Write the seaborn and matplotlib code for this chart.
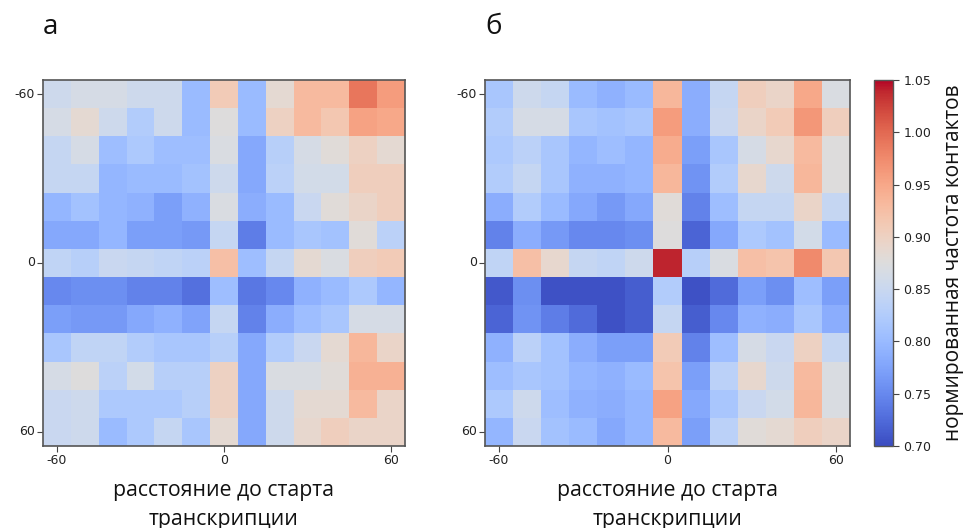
import numpy as np
import matplotlib
matplotlib.use("Agg")
import matplotlib.pyplot as plt
import seaborn as sns

sns.set_style("white")
plt.rcParams['font.family'] = ['DejaVu Sans']

# distance bins (row / column labels), step 10
positions = list(range(-60, 61, 10))
tick_values = [-60, 0, 60]
cbar_ticks = [0.70, 0.75, 0.80, 0.85, 0.90, 0.95, 1.00, 1.05]

panel_a = [
    [0.855, 0.865, 0.865, 0.855, 0.855, 0.800, 0.910, 0.800, 0.885, 0.930, 0.930, 0.990, 0.960],
    [0.865, 0.885, 0.855, 0.825, 0.855, 0.800, 0.875, 0.800, 0.900, 0.930, 0.915, 0.955, 0.950],
    [0.845, 0.865, 0.805, 0.820, 0.805, 0.805, 0.870, 0.780, 0.830, 0.865, 0.880, 0.900, 0.885],
    [0.845, 0.845, 0.795, 0.800, 0.800, 0.810, 0.855, 0.780, 0.835, 0.860, 0.860, 0.905, 0.905],
    [0.795, 0.810, 0.795, 0.790, 0.770, 0.790, 0.870, 0.785, 0.800, 0.850, 0.880, 0.895, 0.905],
    [0.780, 0.780, 0.795, 0.770, 0.770, 0.765, 0.845, 0.740, 0.800, 0.815, 0.810, 0.880, 0.835],
    [0.840, 0.830, 0.850, 0.845, 0.840, 0.835, 0.925, 0.805, 0.845, 0.885, 0.870, 0.905, 0.910],
    [0.750, 0.755, 0.755, 0.745, 0.745, 0.730, 0.805, 0.735, 0.750, 0.790, 0.800, 0.820, 0.795],
    [0.770, 0.765, 0.765, 0.780, 0.790, 0.775, 0.845, 0.745, 0.785, 0.805, 0.815, 0.865, 0.865],
    [0.815, 0.840, 0.840, 0.825, 0.815, 0.815, 0.830, 0.780, 0.825, 0.850, 0.885, 0.935, 0.895],
    [0.865, 0.875, 0.835, 0.860, 0.830, 0.830, 0.900, 0.780, 0.870, 0.870, 0.880, 0.940, 0.940],
    [0.850, 0.855, 0.820, 0.820, 0.820, 0.830, 0.900, 0.780, 0.855, 0.885, 0.885, 0.930, 0.895],
    [0.850, 0.855, 0.800, 0.820, 0.845, 0.815, 0.885, 0.780, 0.855, 0.890, 0.905, 0.895, 0.895],
]

panel_b = [
    [0.815, 0.855, 0.845, 0.800, 0.790, 0.800, 0.935, 0.785, 0.845, 0.905, 0.895, 0.950, 0.870],
    [0.825, 0.865, 0.865, 0.815, 0.810, 0.815, 0.960, 0.785, 0.850, 0.895, 0.910, 0.965, 0.905],
    [0.820, 0.835, 0.815, 0.795, 0.805, 0.795, 0.945, 0.770, 0.815, 0.865, 0.890, 0.930, 0.875],
    [0.825, 0.845, 0.815, 0.790, 0.790, 0.795, 0.935, 0.760, 0.825, 0.890, 0.855, 0.935, 0.875],
    [0.785, 0.825, 0.800, 0.780, 0.765, 0.780, 0.880, 0.745, 0.805, 0.845, 0.845, 0.895, 0.845],
    [0.745, 0.785, 0.765, 0.750, 0.750, 0.755, 0.875, 0.720, 0.780, 0.820, 0.810, 0.860, 0.800],
    [0.840, 0.925, 0.890, 0.845, 0.840, 0.855, 1.040, 0.830, 0.870, 0.925, 0.920, 0.975, 0.915],
    [0.710, 0.755, 0.705, 0.705, 0.705, 0.715, 0.825, 0.705, 0.725, 0.770, 0.755, 0.805, 0.770],
    [0.720, 0.760, 0.740, 0.725, 0.705, 0.715, 0.845, 0.715, 0.750, 0.790, 0.785, 0.815, 0.785],
    [0.790, 0.835, 0.810, 0.785, 0.770, 0.770, 0.910, 0.745, 0.805, 0.865, 0.850, 0.900, 0.845],
    [0.805, 0.815, 0.810, 0.795, 0.790, 0.800, 0.920, 0.770, 0.835, 0.890, 0.855, 0.930, 0.870],
    [0.820, 0.855, 0.805, 0.790, 0.785, 0.795, 0.955, 0.780, 0.815, 0.850, 0.860, 0.935, 0.870],
    [0.795, 0.850, 0.810, 0.800, 0.780, 0.795, 0.930, 0.770, 0.835, 0.880, 0.885, 0.905, 0.895],
]

panel_letters = ["а", "б"]
xlabel_text = "расстояние до старта\nтранскрипции"
cbar_label = "нормированная частота контактов"

W, H = 975, 528
fig = plt.figure(figsize=(W / 100, H / 100), dpi=100)

def frac(x0, y0, x1, y1):
    return [x0 / W, 1 - y1 / H, (x1 - x0) / W, (y1 - y0) / H]

ax_a = fig.add_axes(frac(43, 80, 405, 446))
ax_b = fig.add_axes(frac(485, 80, 850, 446))
cax = fig.add_axes(frac(874, 80, 893, 446))

for ax, data, letter, draw_cbar in [(ax_a, panel_a, panel_letters[0], False),
                                     (ax_b, panel_b, panel_letters[1], True)]:
    arr = np.array(data)
    kw = dict(cmap="coolwarm", vmin=0.70, vmax=1.05, square=False, ax=ax)
    if draw_cbar:
        sns.heatmap(arr, cbar=True, cbar_ax=cax, **kw)
    else:
        sns.heatmap(arr, cbar=False, **kw)
    idx = [positions.index(v) + 0.5 for v in tick_values]
    ax.set_xticks(idx)
    ax.set_xticklabels([str(v) for v in tick_values], rotation=0, fontsize=9, color="#222222")
    ax.set_yticks(idx)
    ax.set_yticklabels([str(v) for v in tick_values], rotation=0, fontsize=9, color="#222222")
    ax.tick_params(axis="both", which="both", length=4, width=0.8, color="#444444",
                   bottom=True, left=True, pad=2)
    for s in ax.spines.values():
        s.set_visible(True)
        s.set_color("#555555")
        s.set_linewidth(1.2)
    ax.set_xlabel(xlabel_text, fontsize=15.3, family=["Open Sans", "DejaVu Sans"],
                  color="#111111", labelpad=9, linespacing=1.5)
    ax.text(0.0, 1.145, letter, transform=ax.transAxes, fontsize=20,
            family=["Open Sans", "DejaVu Sans"], ha="left", va="center", color="#111111")

cb = ax_b.collections[0].colorbar
cb.set_ticks(cbar_ticks)
cb.set_ticklabels([f"{v:.2f}" for v in cbar_ticks])
cb.ax.tick_params(labelsize=9, length=4, width=0.8, color="#444444", labelcolor="#222222")
cb.outline.set_visible(True)
cb.outline.set_edgecolor("#555555")
cb.outline.set_linewidth(1.0)
cb.set_label(cbar_label, fontsize=15, family=["Open Sans", "DejaVu Sans"],
             color="#111111", labelpad=8)

fig.savefig("out.png", dpi=100)
